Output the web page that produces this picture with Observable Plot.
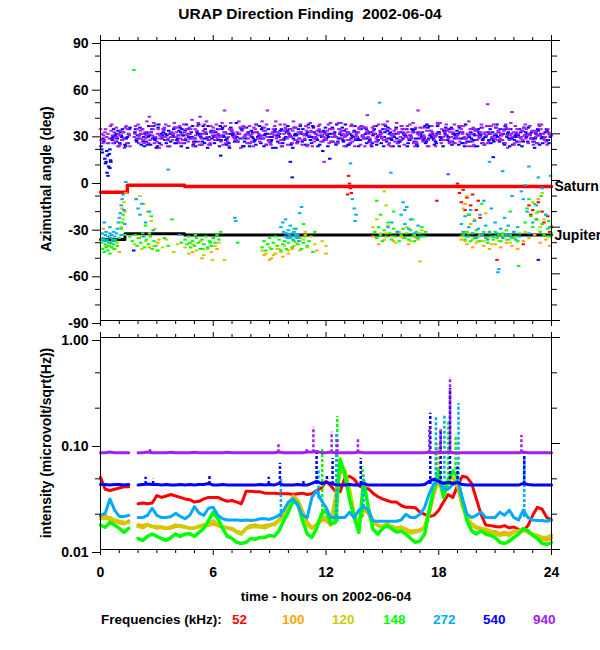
<!DOCTYPE html>
<html><head><meta charset="utf-8">
<script src="https://cdn.jsdelivr.net/npm/d3@7"></script>
<script src="https://cdn.jsdelivr.net/npm/@observablehq/plot@0.6"></script>
<style>
body{margin:0;background:#fff;font-family:"Liberation Sans",Arial,sans-serif;color:#000;}
#wrap{position:relative;width:600px;height:650px;overflow:hidden;background:#fff;}
.t{position:absolute;white-space:nowrap;font-weight:bold;}
.rot{position:absolute;white-space:nowrap;transform:translate(-50%,-50%) rotate(-90deg);font-size:14px;font-weight:bold;}
</style></head><body>
<div id="wrap">
<div id="p1" style="position:absolute;left:0;top:0"></div>
<div id="p2" style="position:absolute;left:0;top:330px"></div>
<div class="t" style="left:0;width:620px;text-align:center;top:5px;font-size:15.5px;">URAP Direction Finding&nbsp; 2002-06-04</div>
<div class="rot" style="left:46px;top:179px">Azimuthal angle (deg)</div>
<div class="rot" style="left:46px;top:443px">intensity (microvolt/sqrt(Hz))</div>
<div class="t" style="left:0;width:652px;text-align:center;top:589px;font-size:13.5px;">time - hours on 2002-06-04</div>
<div id="legend"></div>
</div>
<script>
// ---------- categories / ticks ----------
const freqs = ["52","100","120","148","272","540","940"];
const colors = ["#ff0000","#ffa500","#cccc00","#00ff00","#00aaff","#0000ff","#a020f0"];
const xMajor = [0,6,12,18,24];
const xMinor = [1,2,3,4,5,7,8,9,10,11,13,14,15,16,17,19,20,21,22,23];
const azMajor = [90,60,30,0,-30,-60,-90];
const azMinor = [80,70,50,40,20,10,-10,-20,-40,-50,-70,-80];
const intMajor = [1,0.1,0.01];
const intMinor = [0.4642,0.2154,0.04642,0.02154];

// ---------- top panel: planet direction lines ----------
const saturnH = [0,1.43,4.48,24];
const saturnAz = [-7.5,-3.0,-3.9,-3.9];
const jupiterH = [0,1.3,4.48,24];
const jupiterAz = [-38,-34.3,-35.1,-35.1];

// ---------- top panel: 540 kHz and 940 kHz clouds (angle per 0.2 h slot) ----------
const az540a = [22,14,9,26,30,24,31,28,null,31,27,33,25,29,35,22,30,26,32,28,24,34,29,21,31,27,36,25,30,23,28,33,26,31,24,29,37,27,22,30,32,26,29,34,23,28,31,25,33,27,30,21,29,35,26,31,24,28,32,19,27,33,30,25,29,36,23,28,31,26,34,27,22,30,29,33,25,31,28,24,35,29,26,32,23,30,27,34,28,25,31,22,29,33,27,30,24,36,28,26,32,29,23,31,27,34,25,30,28,33,26,29,22,31,35,27,24,30,28,26];
const az540b = [18,12,20,33,27,29,23,30,null,26,34,28,23,31,26,36,29,24,30,33,27,22,32,28,35,25,30,27,21,32,29,26,34,23,30,28,25,33,29,24,31,36,27,22,30,26,33,28,24,31,29,34,25,30,23,28,35,27,31,26,22,30,28,33,26,29,24,32,27,35,30,25,29,23,31,28,34,26,30,22,27,33,29,25,31,28,24,35,27,30,26,32,28,23,30,34,27,25,31,29,33,24,28,30,26,36,29,23,31,27,28,33,25,30,27,21,32,28,26,30];
const az540c = [25,16,27,29,22,33,27,34,null,29,23,30,35,27,21,29,33,26,28,24,32,29,36,27,25,30,23,33,28,31,26,35,28,24,32,27,30,22,34,29,25,28,33,30,26,21,29,32,27,35,24,30,27,33,29,26,31,22,28,34,30,25,36,27,32,23,29,26,34,28,24,31,33,26,28,35,30,22,27,31,29,24,33,27,30,26,36,29,23,31,28,34,25,30,32,27,22,29,33,26,30,27,35,24,29,31,26,33,22,28,25,31,29,34,27,30,23,28,32,29];
const az540d = [20,11,17,28,25,31,27,24,null,33,29,25,31,23,28,34,27,30,22,29,26,31,24,33,28,22,29,35,27,31,24,29,33,26,21,30,28,34,25,31,28,23,35,27,30,25,32,29,22,28,33,27,24,31,26,36,28,30,23,32,29,25,31,27,34,22,30,28,26,33,27,31,24,35,29,22,32,27,30,25,33,28,26,31,22,29,35,27,30,24,28,32,26,34,29,23,31,27,25,30,22,34,28,26,31,29,33,24,30,27,29,23,32,28,30,25,33,27,31,24];
const az540e = [27,19,13,24,32,28,22,33,null,25,30,22,28,33,27,24,31,29,25,34,29,33,26,30,23,31,28,24,35,27,31,22,29,27,34,25,30,33,27,22,27,31,24,29,33,28,21,30,26,32,23,29,33,25,30,28,34,26,29,31,28,34,23,30,25,31,27,35,22,29,33,26,30,28,24,31,27,29,34,25,30,22,28,33,27,31,25,29,26,35,27,30,33,25,28,31,24,30,27,22,31,26,29,33,25,28,30,35,27,23,30,28,34,25,31,27,29,24,33,28];
const az940a = [30,33,27,24,28,32,21,30,null,35,29,26,38,31,24,33,28,36,22,30,34,27,31,25,39,29,23,32,28,35,26,30,37,24,33,28,31,21,34,27,30,36,25,32,28,23,35,30,26,33,29,38,24,31,27,34,22,30,36,28,32,25,29,37,27,33,24,31,28,35,22,30,34,27,32,26,38,29,25,31,33,28,36,24,30,27,34,22,31,29,37,26,32,28,24,35,30,27,33,23,29,36,31,25,28,34,27,32,21,30,35,28,26,33,29,31,24,36,28,30];
const az940b = [24,28,35,31,22,26,34,29,null,27,32,24,30,35,28,21,33,26,31,37,25,30,27,34,22,32,29,36,26,31,28,33,23,30,37,27,25,32,29,35,22,31,28,34,26,30,38,24,32,27,33,26,31,23,35,29,27,32,25,30,36,28,24,33,30,26,35,22,31,28,34,27,32,25,30,36,23,29,33,26,31,35,28,22,30,34,26,32,29,37,24,31,27,33,28,25,35,30,22,32,27,34,29,31,36,26,30,24,33,28,31,25,34,29,27,32,36,30,25,29];
const az940c = [33,26,30,36,25,29,31,24,null,28,36,30,27,41,33,25,29,34,27,31,28,35,24,30,33,27,37,23,31,26,34,29,25,45,28,32,26,30,35,24,29,31,27,38,23,30,33,28,26,36,31,24,34,27,30,22,32,28,35,29,26,33,30,24,37,28,31,25,29,34,27,32,23,30,36,28,26,33,29,24,35,30,27,31,25,34,29,22,32,28,30,26,36,31,24,29,33,27,38,25,32,28,30,24,35,27,31,26,34,29,23,33,28,36,30,25,31,29,27,33];
const az940d = [26,31,24,29,34,23,27,33,null,30,24,33,29,26,37,30,23,28,35,26,31,24,36,29,27,33,25,30,38,24,32,27,29,35,22,31,26,34,28,30,25,33,30,27,36,24,29,31,22,34,28,32,26,36,29,23,31,27,33,25,30,37,28,24,32,29,26,35,30,23,34,28,31,25,29,36,27,22,32,30,26,33,29,37,24,31,28,26,35,22,30,28,33,25,36,27,31,24,29,34,26,31,23,35,28,30,26,33,29,37,24,30,32,27,35,23,29,33,26,31];
const az940e = [29,24,32,27,30,26,35,22,null,33,27,31,24,29,36,27,32,22,28,34,29,26,33,30,24,35,27,31,23,29,36,28,31,25,33,29,38,27,30,24,34,27,29,32,25,31,27,36,30,23,28,34,30,26,32,37,25,29,31,27,24,33,28,31,22,30,36,27,33,29,31,25,35,29,27,33,24,30,37,28,23,31,27,34,29,25,32,30,26,36,33,29,24,31,27,35,28,22,30,33,28,24,35,30,27,32,29,36,26,31,33,27,29,24,32,28,35,30,23,29];
const az540extra = [[0.4,3],[0.5,8],[0.55,12],[0.35,5],[1.77,-45],[10.1,12],[10.2,2],[23.3,-51],[6.4,16],[12.2,14],[20.9,15]];
const az940extra = [[8.88,45],[16.9,45],[20.6,49],[21.9,44],[11.9,12],[18.5,4],[5.3,41],[14.2,42]];

// ---------- top panel: lower-frequency directions [hour, angle] ----------
const az272 = [[0.1,-34],[0.15,-37],[0.2,-39],[0.25,-35],[0.3,-33],[0.35,-38],[0.4,-36],[0.45,-40],[0.5,-34],[0.55,-37],[0.6,-35],[0.65,-39],[0.7,-33],[0.75,-36],[0.8,-38],[0.85,-34],[0.9,-31],[0.95,-27],[1.0,-24],[1.05,-21],[1.1,-16],[1.15,-12],[1.2,-9],[1.25,-19],[1.3,-28],[0.2,-27],[0.5,-30],[1.1,-35],[1.35,-1],
[1.9,-12],[2.0,-18],[2.1,-22],[2.2,-15],[2.4,-27],[2.6,-20],[2.8,-32],[2.3,-36],[3.6,7],[4.2,-35],[7.15,-24],[7.2,-26],
[9.6,-30],[9.7,-27],[9.75,-33],[9.8,-36],[9.85,-25],[9.9,-34],[9.95,-37],[10.0,-32],[10.05,-35],[10.1,-29],[10.15,-36],[10.2,-34],[10.25,-38],[10.3,-33],[10.35,-36],[10.4,-31],[10.45,-37],[10.5,-35],[10.6,-21],[10.55,-39],[10.7,-17],
[13.4,-12],[13.5,-18],[13.6,-22],[13.55,-26],[13.3,11],[14.85,50],[15.45,5],
[15.3,-30],[15.5,-27],[15.8,-33],[16.0,-22],[16.2,-28],[16.4,-31],[16.5,-25],[16.7,-34],[16.9,-29],[17.0,-36],[16.3,-17],[16.1,-14],[16.2,-19],
[19.2,-28],[19.3,-33],[19.4,-23],[19.5,-36],[19.6,-30],[19.7,-19],[19.8,-34],[19.9,-26],[20.0,-37],[20.1,-31],[20.2,-22],[20.3,-35],[20.4,-13],[20.5,-29],[20.6,-38],[20.7,-33],[20.8,-18],[20.9,-36],[21.0,-27],[21.1,-34],[21.2,-57],[21.15,-59],[21.3,-31],[21.4,-37],[21.5,-24],[21.6,-35],[21.7,-29],[21.8,-36],[21.9,-10],[22.0,-33],[22.1,-38],[22.2,-30],[22.3,-36],[22.4,-7],[22.5,-12],[22.6,-3],[22.7,-20],[22.8,-34],[23.0,-27],[23.2,-16],[23.5,-5],[23.7,-22],[23.9,-30],[23.95,3],[20.7,12],[21.4,6],[22.8,9],[23.3,2]];
const az148 = [[0.05,-40],[0.1,-44],[0.15,-38],[0.2,-46],[0.25,-41],[0.3,-43],[0.35,-39],[0.4,-45],[0.45,-42],[0.5,-47],[0.55,-40],[0.6,-43],[0.65,-38],[0.7,-41],[0.75,-44],[0.8,-39],[0.9,-42],[1.0,-37],[1.1,-31],[1.15,-27],[1.2,-22],[1.3,-35],
[1.55,-36],[1.7,-39],[1.85,-35],[1.95,-42],[2.05,-37],[2.15,-40],[2.25,-34],[2.35,-43],[2.45,-38],[2.55,-41],[2.65,-36],[2.75,-44],[2.85,-39],[2.95,-42],[3.05,-45],[2.4,-29],[2.7,-23],[1.78,71],
[3.4,-37],[3.6,-42],[3.8,-25],[4.3,-40],
[4.5,-38],[4.6,-41],[4.7,-36],[4.8,-43],[4.9,-39],[5.0,-42],[5.1,-37],[5.2,-40],[5.3,-44],[5.4,-38],[5.5,-41],[5.6,-36],[5.7,-43],[5.8,-39],[5.9,-42],[6.0,-37],[6.1,-40],[6.2,-35],[6.3,-38],[6.4,-33],[5.05,-35],[5.45,-44],[5.85,-40],[4.75,-40],[7.3,-40],
[8.6,-43],[8.7,-39],[8.8,-45],[8.9,-41],[9.0,-37],[9.1,-44],[9.2,-40],[9.3,-36],[9.4,-42],[9.5,-38],[9.6,-45],[9.7,-41],[9.8,-39],[9.9,-44],[10.0,-40],[10.1,-37],[10.2,-43],[10.3,-39],[10.4,-35],[10.5,-41],[10.6,-37],[10.7,-44],[10.8,-40],[10.9,-36],[11.0,-42],[11.1,-39],[11.3,-46],[10.3,-31],[10.8,-28],[11.4,-33],
[14.6,-33],[14.7,-37],[14.8,-30],[14.9,-35],[15.0,-39],[15.1,-32],[15.2,-36],[15.3,-27],[15.4,-34],[15.5,-38],[15.6,-31],[15.7,-36],[15.8,-33],[15.9,-39],[16.0,-35],[16.1,-31],[16.2,-37],[16.3,-34],[16.4,-38],[16.5,-32],[16.6,-36],[16.7,-39],[16.8,-33],[16.9,-37],[17.0,-34],[17.1,-30],[17.2,-36],[17.3,-33],[15.6,-20],[16.6,-25],[14.9,-22],[14.7,-13],
[19.3,-35],[19.4,-38],[19.5,-33],[19.6,-36],[19.7,-39],[19.8,-34],[19.9,-37],[20.0,-32],[20.1,-36],[20.2,-39],[20.3,-35],[20.4,-33],[20.5,-37],[20.6,-40],[20.7,-34],[20.8,-36],[20.9,-38],[21.0,-33],[21.1,-37],[21.2,-35],[21.3,-39],[21.4,-34],[21.5,-36],[21.6,-32],[21.7,-38],[21.8,-35],[21.9,-37],[22.0,-33],[22.1,-36],[22.2,-39],[22.3,-34],[19.6,-22],[20.3,-15],[21.8,-20],[22.25,-55],
[22.6,-27],[22.7,-18],[22.8,-12],[22.9,-23],[23.0,-30],[23.1,-15],[23.2,-25],[23.3,-20],[23.4,-33],[23.5,-28],[23.6,-35],[23.7,-22],[23.8,-31],[23.9,-36],[24.0,-34],[23.45,-10],[23.85,-26]];
const az120 = [[0.1,-38],[0.3,-42],[0.5,-36],[0.7,-44],[0.9,-40],[1.1,-30],[1.2,-25],[1.25,-14],[1.3,-20],
[1.8,-41],[2.0,-37],[2.1,-10],[2.2,-44],[2.3,-15],[2.4,-39],[2.5,-20],[2.6,-34],[2.7,-26],[2.8,-42],[2.9,-31],[3.0,-45],[3.1,-38],
[3.3,-43],[3.5,-38],[3.9,-46],[4.1,-41],
[4.5,-43],[4.7,-47],[4.9,-41],[5.1,-45],[5.3,-39],[5.5,-48],[5.7,-44],[5.9,-46],[6.1,-42],[6.3,-40],[5.95,-51],[6.6,-51],
[8.6,-45],[8.8,-47],[9.0,-43],[9.2,-48],[9.4,-44],[9.6,-46],[9.8,-42],[10.0,-47],[10.2,-44],[10.4,-40],[10.6,-45],[10.8,-38],[11.0,-43],[11.2,-36],[11.4,-41],[9.1,-50],[9.9,-34],[10.9,-33],[11.8,-39],[12.0,-42],
[14.5,-30],[14.7,-25],[14.9,-34],[15.1,-38],[15.3,-29],[15.5,-36],[15.7,-40],[15.9,-33],[16.1,-37],[16.3,-30],[16.5,-39],[16.7,-35],[16.9,-38],[17.1,-32],[15.2,-16],[15.1,-7],[17.0,-52],
[19.2,-36],[19.4,-39],[19.6,-34],[19.8,-38],[20.0,-40],[20.2,-35],[20.4,-39],[20.6,-37],[20.8,-41],[21.0,-36],[21.2,-39],[21.4,-35],[21.6,-38],[21.8,-40],[22.0,-37],[22.2,-39],[19.3,-18],[19.5,-10],[19.9,-25],[20.5,-21],
[22.6,-33],[22.8,-37],[23.0,-14],[23.2,-21],[23.4,-30],[23.6,-25],[23.8,-36],[24.0,-29],[23.5,-8]];
const az100 = [[0.15,-31],[0.6,-41],[1.0,-46],[1.15,-18],[1.35,-8],[1.9,-12],[2.2,-36],[2.6,-43],[3.05,-40],
[4.9,-46],[5.4,-50],[6.2,-44],[8.7,-48],[9.0,-51],[9.3,-47],[9.5,-44],[9.7,-49],[10.0,-45],[10.3,-42],[10.6,-39],[10.9,-35],[11.5,-45],[12.0,-47],
[14.5,-36],[14.8,-41],[15.2,-34],[15.6,-39],[16.0,-36],[16.4,-41],[16.8,-37],
[19.2,-38],[19.5,-41],[19.8,-43],[20.1,-39],[20.4,-42],[20.7,-44],[21.0,-41],[21.3,-43],[21.6,-40],[21.9,-42],[22.2,-44],[22.5,-39],[19.4,-15],[19.7,-28],
[23.1,-35],[23.4,-40],[23.7,-38],[23.9,-42],[23.3,-12]];
const az52 = [[13.2,3],[13.25,-2],[13.3,-5],[13.35,-8],[13.15,-9],[17.9,-13],
[19.1,-8],[19.2,-14],[19.3,-6],[19.4,-19],[19.5,-11],[19.6,-22],[19.7,-16],[19.8,-9],[20.0,-19],[20.1,-13],[20.2,-24],[21.1,-51],
[22.5,-41],[22.8,-16],[22.9,-22],[23.0,-19],[23.2,-25],[23.3,-14],[23.5,-20],[23.6,-27],[23.8,-23],[23.9,-33],[24.0,-30],[19.0,-2]];

// ---------- bottom panel: intensity traces, one value per quarter hour (0..24) ----------
const int52 = [0.048,0.037,0.036,0.037,0.038,0.039,0.039,null,
0.027,0.0275,0.027,0.0275, 0.0323,0.031,0.032,0.033, 0.032,0.031,0.030,0.0295, 0.028,0.0285,0.030,0.031,
0.031,0.031,0.0295,0.0285, 0.029,0.028,0.027,0.0355, 0.0355,0.035,0.035,0.034, 0.034,0.034,0.0335,0.0335,
0.0335,0.033,0.0335,0.034, 0.033,0.0335,0.036,0.038, 0.044,0.040,0.0355,0.035, 0.047,0.049,0.046,0.040,
0.038,0.0375,0.034,0.0316, 0.030,0.029,0.028,0.028, 0.026,0.025,0.025,0.0248, 0.0225,0.0215,0.0205,0.021,
0.0235,0.028,0.033,0.031, 0.040,0.049,0.048,0.042, 0.030,0.0215,0.017,0.0168, 0.0165,0.0163,0.0168,0.016,
0.0163,0.0155,0.015,0.0168, 0.021,0.025,0.024,0.020, 0.019];
const int100 = [0.0205,0.021,0.019,0.0185,0.018,0.0175,0.0185,null,
0.017,0.0168,0.0172,0.0165, 0.016,0.0163,0.0158,0.016, 0.0165,0.0168,0.0163,0.0158, 0.016,0.0165,0.0168,0.017,
0.0175,0.0168,0.0163,0.016, 0.0155,0.0148,0.0143,0.0158, 0.0168,0.017,0.0165,0.0168, 0.017,0.0175,0.019,0.0215,
0.026,0.032,0.029,0.023, 0.018,0.016,0.0168,0.019, 0.019,0.017,0.028,0.06, 0.05,0.034,0.021,0.017,
0.024,0.022,0.018,0.0168, 0.0165,0.017,0.0163,0.016, 0.0162,0.0155,0.0148,0.015, 0.0153,0.016,0.022,0.034,
0.045,0.032,0.042,0.043, 0.04,0.026,0.0195,0.017, 0.016,0.0155,0.015,0.0145, 0.0148,0.014,0.0145,0.014,
0.0148,0.015,0.0155,0.0145, 0.0138,0.013,0.0125,0.0123, 0.0128];
const int120 = [0.0195,0.0197,0.020,0.019,0.0185,0.018,0.018,null,
0.0165,0.016,0.017,0.0165, 0.0165,0.016,0.0158,0.0163, 0.017,0.0165,0.0163,0.0158, 0.016,0.0165,0.0172,0.017,
0.0187,0.017,0.0163,0.016, 0.0158,0.0145,0.014,0.0158, 0.0163,0.0165,0.0163,0.016, 0.0168,0.0172,0.0187,0.021,
0.025,0.031,0.028,0.022, 0.017,0.0158,0.0172,0.020, 0.020,0.0175,0.031,0.065, 0.0557,0.037,0.0215,0.0175,
0.025,0.0235,0.0184,0.017, 0.0163,0.0175,0.0163,0.0157, 0.0163,0.0155,0.0143,0.0146, 0.015,0.0163,0.0235,0.037,
0.048,0.034,0.045,0.048, 0.042,0.027,0.020,0.0175, 0.0163,0.0158,0.0155,0.015, 0.014,0.0136,0.0139,0.0136,
0.0146,0.015,0.0157,0.0146, 0.014,0.0136,0.013,0.013, 0.0136];
const int148 = [0.017,0.0162,0.018,0.017,0.0158,0.0145,0.0158,null,
0.0127,0.0122,0.0133,0.014, 0.0133,0.0127,0.0122,0.013, 0.014,0.0133,0.014,0.0141, 0.0133,0.0145,0.0158,0.0187,
0.0225,0.0195,0.0158,0.0133, 0.0127,0.0117,0.0114,0.0117, 0.0127,0.0125,0.013,0.013, 0.0136,0.0133,0.015,0.0187,
0.0225,0.029,0.027,0.0187, 0.014,0.013,0.0158,0.0215, 0.0235,0.0175,0.018,0.07, 0.052,0.03,0.02,0.0145,
0.045,0.025,0.0155,0.014, 0.0157,0.0168,0.0157,0.0146, 0.015,0.014,0.0127,0.0117, 0.012,0.014,0.0235,0.039,
0.0557,0.031,0.045,0.055, 0.048,0.029,0.0187,0.015, 0.014,0.015,0.014,0.0136, 0.013,0.0117,0.0114,0.012,
0.013,0.014,0.0157,0.015, 0.0136,0.0127,0.0114,0.0112, 0.0116];
const int272 = [0.021,0.022,0.030,0.0235,0.0205,0.0205,0.021,null,
0.020,0.020,0.021,0.0245, 0.021,0.020,0.020,0.0205, 0.022,0.0205,0.0195,0.021, 0.0254,0.022,0.021,0.0245,
0.025,0.021,0.0195,0.019, 0.019,0.019,0.0188,0.019, 0.0188,0.019,0.0195,0.0195, 0.0192,0.020,0.021,0.0235,
0.028,0.030,0.026,0.021, 0.020,0.031,0.036,0.029, 0.025,0.020,0.020,0.020, 0.020,0.0225,0.020,0.0235,
0.0254,0.0235,0.0187,0.0185, 0.0185,0.0185,0.0185,0.0185, 0.019,0.0215,0.020,0.020, 0.0215,0.025,0.034,0.042,
0.045,0.037,0.037,0.041, 0.045,0.031,0.0215,0.020, 0.021,0.0225,0.020,0.020, 0.020,0.0225,0.021,0.0235,
0.020,0.019,0.0235,0.020, 0.019,0.0188,0.0188,0.0185, 0.019];
const int540 = [0.041,0.041,0.0405,0.041,0.041,0.0405,0.041,null,
0.0405,0.041,0.0415,0.041, 0.041,0.0405,0.041,0.0405, 0.0405,0.041,0.0405,0.041, 0.0405,0.041,0.041,0.042,
0.0405,0.0405,0.041,0.0405, 0.0405,0.0405,0.0405,0.0405, 0.0405,0.0405,0.041,0.0405, 0.041,0.0405,0.042,0.0405,
0.0405,0.0405,0.041,0.0405, 0.0405,0.042,0.044,0.042, 0.043,0.042,0.041,0.0405, 0.0405,0.041,0.0405,0.0405,
0.042,0.0405,0.0405,0.0405, 0.0405,0.0405,0.0405,0.0405, 0.0405,0.0405,0.0405,0.0405, 0.0405,0.041,0.044,0.046,
0.044,0.042,0.043,0.042, 0.043,0.041,0.0405,0.0405, 0.0405,0.0405,0.0405,0.0405, 0.0405,0.0405,0.0405,0.0405,
0.0405,0.0405,0.042,0.041, 0.0405,0.0405,0.0405,0.0405, 0.0405];
const int940 = [0.082,0.082,0.083,0.082,0.082,0.082,0.082,null,
0.082,0.082,0.083,0.082, 0.082,0.082,0.082,0.0825, 0.082,0.082,0.082,0.082, 0.0825,0.082,0.082,0.082,
0.082,0.082,0.082,0.0825, 0.082,0.082,0.082,0.082, 0.082,0.082,0.082,0.082, 0.082,0.082,0.083,0.082,
0.082,0.082,0.082,0.082, 0.083,0.083,0.084,0.082, 0.082,0.083,0.082,0.082, 0.082,0.082,0.082,0.083,
0.082,0.082,0.082,0.082, 0.082,0.082,0.082,0.082, 0.082,0.082,0.082,0.082, 0.082,0.082,0.083,0.082,
0.083,0.082,0.083,0.082, 0.082,0.082,0.082,0.082, 0.082,0.082,0.082,0.082, 0.082,0.082,0.082,0.082,
0.082,0.082,0.083,0.082, 0.082,0.082,0.082,0.082, 0.082];

// ---------- bottom panel: short bursts [hour, from, to] ----------
const spikes940 = [[2.64,0.082,0.089],[9.47,0.082,0.10],[10.97,0.082,0.09],[11.33,0.082,0.142],[12.3,0.082,0.128],[12.6,0.082,0.11],[13.7,0.082,0.109],[17.5,0.082,0.143],[18.1,0.082,0.138],[18.6,0.082,0.42],[22.4,0.082,0.119]];
const spikes540 = [[2.4,0.041,0.048],[2.8,0.041,0.046],[5.8,0.041,0.049],[8.95,0.041,0.048],[9.55,0.041,0.065],[10.8,0.041,0.044],[11.5,0.041,0.081],[12.05,0.041,0.05],[12.35,0.041,0.072],[13.85,0.041,0.072],[17.55,0.041,0.193],[18.1,0.041,0.133],[18.6,0.041,0.33],[19.0,0.041,0.06],[22.55,0.041,0.08]];
const spikes272 = [[9.6,0.02,0.046],[11.6,0.03,0.055],[12.55,0.02,0.124],[14.0,0.025,0.05],[17.85,0.04,0.177],[18.3,0.037,0.184],[19.05,0.045,0.238],[22.55,0.02,0.074]];
const spikes148 = [[11.8,0.02,0.09],[12.6,0.018,0.18],[13.95,0.02,0.06],[17.85,0.04,0.10],[18.5,0.045,0.16],[18.9,0.05,0.115]];
const spikes120 = [[12.75,0.05,0.075],[18.0,0.045,0.1]];
const spikes100 = [[17.95,0.045,0.095]];

// ---------- build ----------
const T = d3.range(0, 24.001, 0.25);
const dash = {draw(ctx){ ctx.moveTo(-1.75,-1); ctx.lineTo(1.75,-1); ctx.lineTo(1.75,1); ctx.lineTo(-1.75,1); ctx.closePath(); }};
const font = "'Liberation Sans', Arial, Helvetica, sans-serif";
const blank = () => "";

function frameMarks(yMajor, yMinor, yFmt, xLabels) {
  return [
    Plot.axisX({anchor:"bottom", ticks:xMajor, tickSize:6, tickPadding:12, tickFormat: xLabels ? (d => String(d)) : blank, label:null}),
    Plot.axisX({anchor:"bottom", ticks:xMinor, tickSize:4, tickFormat:blank, label:null}),
    Plot.axisX({anchor:"top", ticks:xMajor, tickSize:6, tickFormat:blank, label:null}),
    Plot.axisX({anchor:"top", ticks:xMinor, tickSize:4, tickFormat:blank, label:null}),
    Plot.axisY({anchor:"left", ticks:yMajor, tickSize:8, tickPadding:4, tickFormat:yFmt, label:null, dy:3}),
    Plot.axisY({anchor:"left", ticks:yMinor, tickSize:5, tickFormat:blank, label:null}),
    Plot.axisY({anchor:"right", ticks:yMajor, tickSize:8, tickFormat:blank, label:null}),
    Plot.axisY({anchor:"right", ticks:yMinor, tickSize:5, tickFormat:blank, label:null}),
    Plot.frame({stroke:"#000"})
  ];
}

const layer = (arr, t0) => arr.map((a,i) => ({h: t0 + 0.2*i, a})).filter(d => d.a !== null);
const pairDots = (arr, c) => Plot.dot(arr, {x: d => d[0], y: d => d[1], symbol: dash, fill: c, stroke: null});
const layerDots = (arr, t0, c) => Plot.dot(layer(arr, t0), {x:"h", y:"a", symbol: dash, fill: c, stroke: null});

const sat = saturnH.map((h,i) => ({h, a: saturnAz[i]}));
const jup = jupiterH.map((h,i) => ({h, a: jupiterAz[i]}));

const p1 = Plot.plot({
  width: 600, height: 330, marginLeft: 100, marginRight: 49, marginTop: 40, marginBottom: 10,
  style: {fontFamily: font, fontSize: "14px", fontWeight: "bold", color: "#000", background: "transparent", overflow: "visible"},
  x: {domain: [0, 24]},
  y: {domain: [-90, 90]},
  marks: [
    Plot.line(sat, {x:"h", y:"a", curve:"step-after", stroke: colors[0], strokeWidth: 3.5}),
    Plot.line(jup, {x:"h", y:"a", curve:"step-after", stroke: "#000", strokeWidth: 3}),
    pairDots(az52, colors[0]),
    pairDots(az100, colors[1]),
    pairDots(az120, colors[2]),
    pairDots(az148, colors[3]),
    pairDots(az272, colors[4]),
    layerDots(az540a, 0.03, colors[5]),
    layerDots(az540b, 0.10, colors[5]),
    layerDots(az540c, 0.17, colors[5]),
    layerDots(az540d, 0.065, colors[5]),
    layerDots(az540e, 0.135, colors[5]),
    pairDots(az540extra, colors[5]),
    layerDots(az940a, 0.07, colors[6]),
    layerDots(az940b, 0.13, colors[6]),
    layerDots(az940c, 0.00, colors[6]),
    layerDots(az940d, 0.035, colors[6]),
    layerDots(az940e, 0.165, colors[6]),
    pairDots(az940extra, colors[6]),
    Plot.text([sat[sat.length-1]], {x:"h", y:"a", text: () => "Saturn", textAnchor:"start", dx: 3, fontSize: 14}),
    Plot.text([jup[jup.length-1]], {x:"h", y:"a", text: () => "Jupiter", textAnchor:"start", dx: 3, fontSize: 14}),
    ...frameMarks(azMajor, azMinor, d => String(d), false)
  ]
});
document.getElementById("p1").append(p1);

const trace = (vals) => T.map((h,i) => ({h, v: vals[i]}));
const traceLine = (vals, c, w) => Plot.line(trace(vals), {x:"h", y:"v", stroke: c, strokeWidth: w, defined: d => d.v != null});
const spikeRule = (arr, c) => Plot.ruleX(arr, {x: d => d[0], y1: d => d[1], y2: d => d[2], stroke: c, strokeWidth: 2.5, strokeDasharray: "3,2"});

const p2 = Plot.plot({
  width: 600, height: 260, marginLeft: 100, marginRight: 49, marginTop: 7, marginBottom: 41,
  style: {fontFamily: font, fontSize: "14px", fontWeight: "bold", color: "#000", background: "transparent", overflow: "visible"},
  x: {domain: [0, 24]},
  y: {type: "log", domain: [0.01, 1]},
  marks: [
    traceLine(int52, colors[0], 3),
    traceLine(int100, colors[1], 3.5),
    spikeRule(spikes100, colors[1]),
    traceLine(int120, colors[2], 3.5),
    spikeRule(spikes120, colors[2]),
    traceLine(int148, colors[3], 3.5),
    spikeRule(spikes148, colors[3]),
    traceLine(int272, colors[4], 3),
    spikeRule(spikes272, colors[4]),
    traceLine(int540, colors[5], 3),
    spikeRule(spikes540, colors[5]),
    traceLine(int940, colors[6], 3),
    spikeRule(spikes940, colors[6]),
    ...frameMarks(intMajor, intMinor, d3.format(".2f"), true)
  ]
});
document.getElementById("p2").append(p2);

// legend
const lg = document.getElementById("legend");
const lgLeft = [232,282,332,383,433,483,533];
const head = document.createElement("div");
head.className = "t"; head.style.cssText = "left:101px;top:612px;font-size:13.5px;";
head.textContent = "Frequencies (kHz):";
lg.append(head);
freqs.forEach((f,i) => {
  const s = document.createElement("div");
  s.className = "t";
  s.style.cssText = `left:${lgLeft[i]}px;top:612px;font-size:13.5px;color:${colors[i]}`;
  s.textContent = f;
  lg.append(s);
});
</script>
</body></html>
